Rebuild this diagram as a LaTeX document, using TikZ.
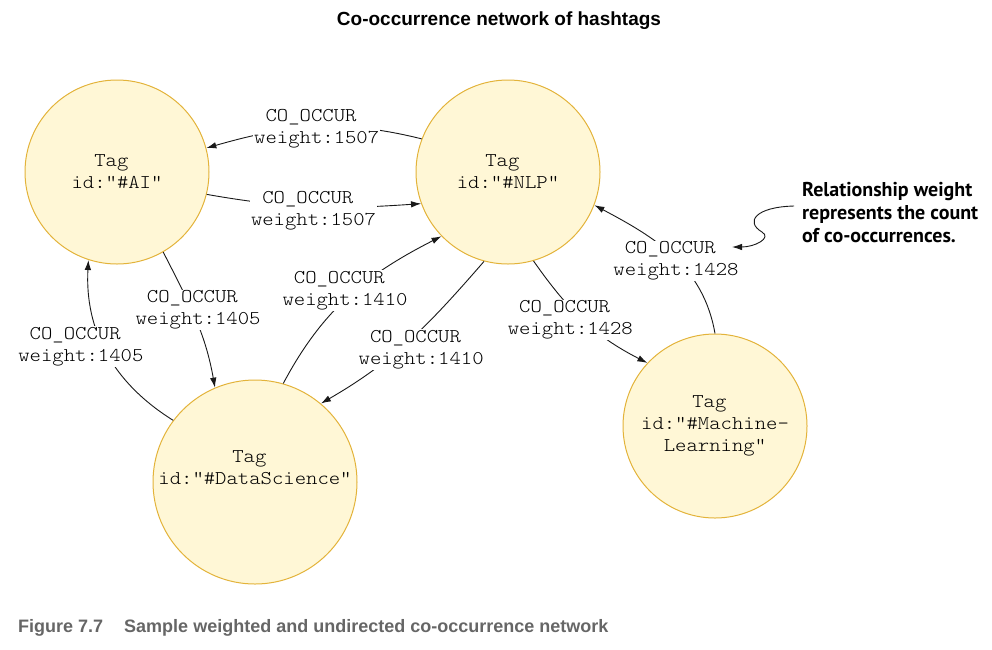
\documentclass[tikz,border=0pt]{standalone}
\usepackage{fontspec}
\setmainfont{Liberation Sans}
\newfontfamily\monofam[Extension=.otf,FakeStretch=1.11]{lmmonolt10-regular}
\newfontfamily\notefont{PT Sans}
\usetikzlibrary{arrows.meta}
\definecolor{tagfill}{HTML}{FFF7D6}
\definecolor{tagline}{HTML}{E3B33A}
\definecolor{capgray}{HTML}{666666}
\begin{document}
\begin{tikzpicture}[x=1pt,y=1pt,
  tag/.style={circle,draw=tagline,fill=tagfill,line width=1pt,align=center,
    font=\monofam\fontsize{19.5}{22}\selectfont,inner sep=0pt},
  lbl/.style={fill=white,align=center,inner sep=1pt,
    font=\monofam\fontsize{19.5}{22}\selectfont},
  rel/.style={line width=0.9pt,draw=black!90,-{Latex[length=10pt,width=6.5pt]}},
]
\useasboundingbox (0,0) rectangle (992,-649);
\node[font=\bfseries\fontsize{19}{22}\selectfont,anchor=base] (title) at (499,-25) {Co-occurrence network of hashtags};
\node[tag,minimum size=184pt] (ai) at (117,-172) {Tag\phantom{X}\\id:"\#AI"};
\node[tag,minimum size=184pt] (nlp) at (508,-172) {Tag\phantom{X}\\id:"\#NLP"};
\node[tag,minimum size=204pt] (ds) at (255,-482) {Tag\phantom{X}\\id:"\#DataScience"\\\strut};
\node[tag,minimum size=184pt] (ml) at (715,-426) {Tag\phantom{X}\\id:"\#Machine-\\Learning"};
\draw[rel] (nlp.159) to[out=166,in=16] node[lbl,xshift=3pt,yshift=-2pt] (l1) {CO\_OCCUR\phantom{X}\\weight:1507} (ai.15);
\draw[rel] (ai.-14) to[out=-10,in=184] node[lbl,yshift=-4pt] (l2) {CO\_OCCUR\phantom{X}\\weight:1507} (nlp.200);
\draw[rel] (ai.-60) to[out=-63,in=100] node[lbl,xshift=3pt,yshift=8pt] (l3) {CO\_OCCUR\phantom{X}\\weight:1405} (ds.113);
\draw[rel] (ds.143) to[out=148,in=-93] node[lbl,xshift=-26pt,yshift=6pt] (l4) {CO\_OCCUR\phantom{X}\\weight:1405} (ai.252);
\draw[rel] (ds.74) to[out=62,in=207] node[lbl,xshift=-4pt,yshift=6pt] (l5) {CO\_OCCUR\phantom{X}\\weight:1410} (nlp.224);
\draw[rel] (nlp.255) to[out=229,in=30] node[lbl,xshift=12pt,yshift=-9pt] (l6) {CO\_OCCUR\phantom{X}\\weight:1410} (ds.50);
\draw[rel] (nlp.-74) to[out=-55,in=153] node[lbl,xshift=-13pt,yshift=0pt] (l7) {CO\_OCCUR\phantom{X}\\weight:1428} (ml.137);
\draw[rel] (ml.90) to[out=100,in=-28] node[lbl,xshift=3pt,yshift=-5pt] (l8) {CO\_OCCUR\phantom{X}\\weight:1428} (nlp.-21);
\node[anchor=base west,align=left,inner sep=0pt,font=\notefont\bfseries\fontsize{20}{23}\selectfont] (note) at (802,-242) {Relationship weight\\represents the count\\of co-occurrences.};
\coordinate (nstart) at (794,-206);
\coordinate (ntip) at (732,-247);
\draw[rel] (nstart) .. controls (755,-207) and (745,-222) .. (762,-232) .. controls (772,-238) and (755,-247) .. (ntip);
\node[anchor=base west,inner sep=0pt,text=capgray,font=\bfseries\fontsize{18}{22}\selectfont] (cap) at (18,-632) {Figure 7.7\hspace{21pt}Sample weighted and undirected co-occurrence network};
\end{tikzpicture}
\end{document}
